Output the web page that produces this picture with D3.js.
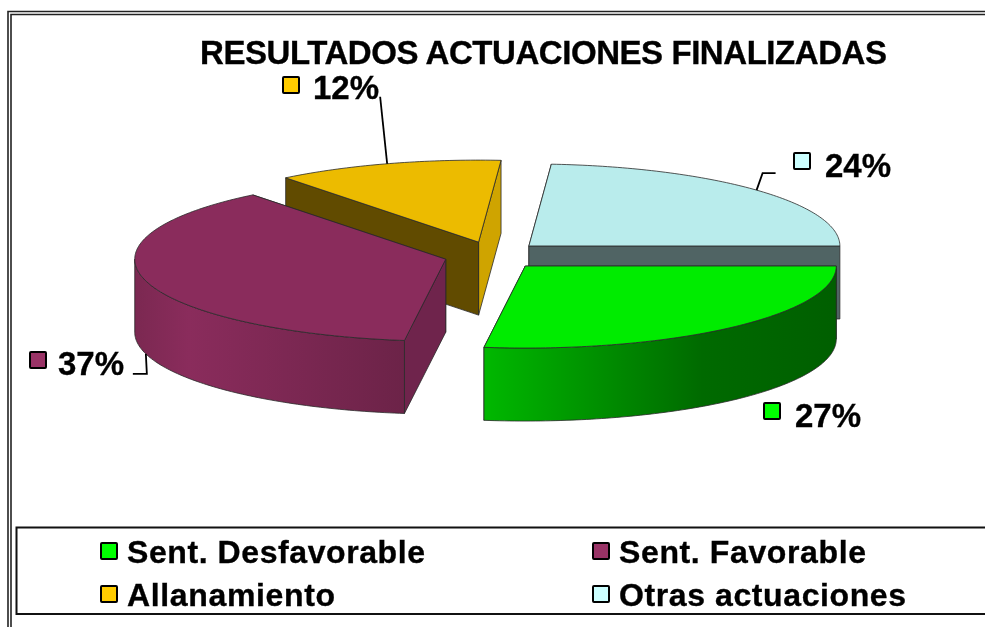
<!DOCTYPE html>
<html><head><meta charset="utf-8">
<script src="https://cdnjs.cloudflare.com/ajax/libs/d3/7.8.5/d3.min.js"></script>
<style>html,body{margin:0;padding:0;background:#fff}svg{display:block;filter:blur(.4px)}text{font-family:"Liberation Sans",Arial,sans-serif;font-weight:700;fill:#000;stroke:#000;stroke-width:.35px}</style>
</head><body><svg id="c" width="985" height="627"></svg>
<script>
const chartTitle = "RESULTADOS ACTUACIONES FINALIZADAS";
const categories = ["Sent. Desfavorable","Sent. Favorable","Allanamiento","Otras actuaciones"];
const values = [27.12,37.23,11.8,23.85];
const keyColors = ["#00ff00","#993366","#ffcc00","#ccffff"];
const topColors = ["#00ec00","#8a2c5c","#ecbb00","#b9ecec"];
const startCutColors = ["#00a000","#6f244c","#614b00","#506464"];
const endCutColors = ["#00a000","#6f244c","#cfa400","#506464"];
const rimStops = [["#00b800","#006a00","#005f00"],["#7b2851","#8a2c5c","#6c2348"],["#cfa400","#cfa400","#cfa400"],["#5a6e6e","#5a6e6e","#8a9a9a"]];
const labelPos = [{kx:763,ky:402,tx:795,ty:427},{kx:29,ky:351,tx:58,ty:375},{kx:282,ky:76,tx:313,ty:99},{kx:793,ky:152,tx:825,ty:177}];
const leaderElbows = [null,[[1,20],[-13,20]],[[-7,-67]],[[6,-17],[19,-17]]];

const svg = d3.select("#c");
const cx=493, cy=255.5, rx=311, ry=82, depth=73, ex=49, ey=14;
const pie = d3.pie().sort(null).startAngle(Math.PI/2).endAngle(Math.PI/2+2*Math.PI)(values);
const line = d3.line();
const slices = pie.map((p,i)=>{
  const a0=p.startAngle-Math.PI/2, a1=p.endAngle-Math.PI/2, mid=(a0+a1)/2;
  return {i,a0,a1,mid,ax:cx+ex*Math.cos(mid),ay:cy+ey*Math.sin(mid)};
});
const pt=(s,t,d=0)=>[s.ax+rx*Math.cos(t),s.ay+ry*Math.sin(t)+d];
const sweep=(s,t0,t1,d=0)=>{const n=Math.max(2,Math.ceil(Math.abs(t1-t0)*60));return d3.range(n+1).map(k=>pt(s,t0+(t1-t0)*k/n,d));};

// frames
const frame=svg.append("g").attr("fill","none").attr("stroke","#222");
frame.append("path").attr("d","M8 627V11.5H985M11 627V14.5H985").attr("stroke-width",1.6);

svg.append("text").attr("x",200).attr("y",64).attr("font-size",33).attr("textLength",687).attr("lengthAdjust","spacing").text(chartTitle);

const defs=svg.append("defs");
rimStops.forEach((st,i)=>{
  const g=defs.append("linearGradient").attr("id","rim"+i);
  st.forEach((c,k)=>g.append("stop").attr("offset",[0,i===0?.62:.2,1][k]).attr("stop-color",c));
});

const edge={stroke:"#2a2a2a","stroke-width":.8,"stroke-linejoin":"round"};
const style=(sel)=>{for(const k in edge)sel.attr(k,edge[k]);return sel;};
const order=slices.slice().sort((a,b)=>d3.ascending(a.ay,b.ay));
order.forEach(s=>{
  const g=svg.append("g");
  const apex=[s.ax,s.ay], apexD=[s.ax,s.ay+depth];
  const cuts=[{t:s.a0,c:startCutColors[s.i]},{t:s.a1,c:endCutColors[s.i]}]
    .sort((u,v)=>d3.ascending(Math.sin(u.t),Math.sin(v.t)));
  cuts.forEach(k=>{
    style(g.append("path")).attr("fill",k.c)
      .attr("d",line([apex,pt(s,k.t),pt(s,k.t,depth),apexD])+"Z");
  });
  // visible outer wall: the part of the rim on the near half of the ellipse
  const lo=Math.max(s.a0,0), hi=Math.min(s.a1,Math.PI);
  if(hi>lo){
    style(g.append("path")).attr("fill",`url(#rim${s.i})`)
      .attr("d",line(sweep(s,lo,hi).concat(sweep(s,hi,lo,depth)))+"Z");
  }
  style(g.append("path")).attr("fill",topColors[s.i])
    .attr("d",line([apex].concat(sweep(s,s.a0,s.a1)))+"Z");
});

// leader lines start on the rim at each slice's mid angle
slices.forEach(s=>{
  const e=leaderElbows[s.i]; if(!e) return;
  const front=Math.sin(s.mid)>0;
  const st=pt(s,s.mid,front?depth:0);
  svg.append("path").attr("fill","none").attr("stroke","#000").attr("stroke-width",1.8)
    .attr("d",line([st].concat(e.map(o=>[st[0]+o[0],st[1]+o[1]]))));
});

// data labels
const pct=d3.format(".0f");
const key=(x,y,c,sz)=>svg.append("rect").attr("x",x+1).attr("y",y+1).attr("width",sz).attr("height",sz).attr("rx",1)
  .attr("fill",c).attr("stroke","#000").attr("stroke-width",2);
slices.forEach(s=>{
  const l=labelPos[s.i];
  key(l.kx,l.ky,keyColors[s.i],16);
  svg.append("text").attr("x",l.tx).attr("y",l.ty).attr("font-size",33).text(pct(values[s.i])+"%");
});

// legend
svg.append("path").attr("fill","none").attr("stroke","#111").attr("stroke-width",2).attr("d","M985 527.5H16.5V614H985");
const colX=d3.scaleOrdinal().domain([0,1]).range([100,592]);
const rowY=d3.scaleOrdinal().domain([0,1]).range([542,585]);
const legendW=[298,247,208,287];
categories.forEach((c,i)=>{
  const x=colX(i%2), y=rowY(Math.floor(i/2));
  key(x,y,keyColors[i],16);
  svg.append("text").attr("x",x+27).attr("y",y+21).attr("font-size",32).attr("textLength",legendW[i]).attr("lengthAdjust","spacing").text(c);
});
</script></body></html>
